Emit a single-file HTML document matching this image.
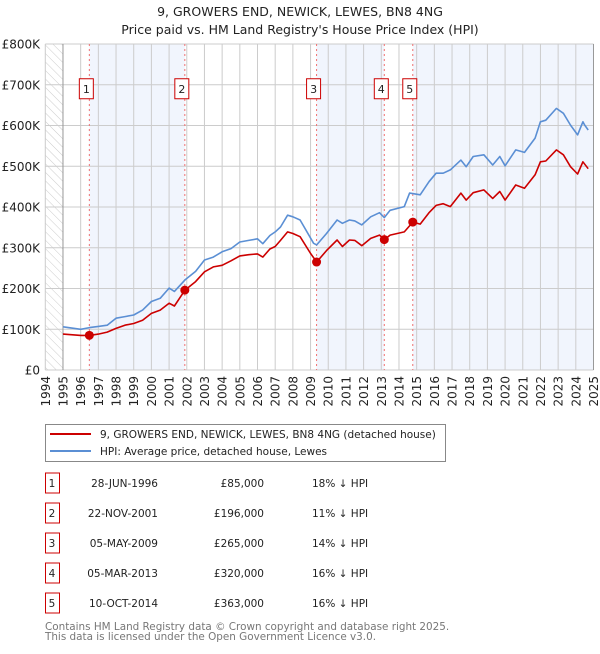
<!DOCTYPE html>
<html><head><meta charset="utf-8">
<style>
body{margin:0;background:#fff;font-family:"DejaVu Sans","Liberation Sans",sans-serif;}
svg text{font-family:"DejaVu Sans","Liberation Sans",sans-serif;}
</style></head>
<body>
<svg id="chart" width="600" height="650" xmlns="http://www.w3.org/2000/svg">
<defs>
<pattern id="hatch" width="6" height="6" patternUnits="userSpaceOnUse" patternTransform="rotate(-45)">
<line x1="0" y1="0" x2="0" y2="6" stroke="#ccc" stroke-width="1"/>
</pattern>
</defs>
<text x="300" y="16" text-anchor="middle" font-size="12.5" fill="#222">9, GROWERS END, NEWICK, LEWES, BN8 4NG</text>
<text x="300" y="34" text-anchor="middle" font-size="12.5" fill="#222">Price paid vs. HM Land Registry's House Price Index (HPI)</text>
<g id="plot"></g>
<rect x="45.5" y="424.5" width="400" height="37" fill="#fff" stroke="#888"/>
<line x1="50" y1="434" x2="91" y2="434" stroke="#cc0000" stroke-width="2"/>
<text x="100" y="438" font-size="10.5" fill="#222">9, GROWERS END, NEWICK, LEWES, BN8 4NG (detached house)</text>
<line x1="50" y1="451" x2="91" y2="451" stroke="#5b8fd4" stroke-width="2"/>
<text x="100" y="455" font-size="10.5" fill="#222">HPI: Average price, detached house, Lewes</text>
<g id="table"></g>
<text x="45" y="630" font-size="10.4" fill="#777">Contains HM Land Registry data © Crown copyright and database right 2025.</text>
<text x="45" y="640" font-size="10.4" fill="#777">This data is licensed under the Open Government Licence v3.0.</text>
</svg>
<script>
const yTicks=[0,100000,200000,300000,400000,500000,600000,700000,800000];
const yTickLabels=["£0","£100K","£200K","£300K","£400K","£500K","£600K","£700K","£800K"];
const years=[1994,1995,1996,1997,1998,1999,2000,2001,2002,2003,2004,2005,2006,2007,2008,2009,2010,2011,2012,2013,2014,2015,2016,2017,2018,2019,2020,2021,2022,2023,2024,2025];
const hpiT=[1995.0,1996.0,1996.5,1997.0,1997.5,1998.0,1998.5,1999.0,1999.5,2000.0,2000.5,2001.0,2001.3,2001.9,2002.5,2003.0,2003.5,2004.0,2004.5,2005.0,2005.5,2006.0,2006.3,2006.7,2007.0,2007.3,2007.7,2008.0,2008.41,2009.17,2009.35,2009.9,2010.5,2010.8,2011.2,2011.5,2011.9,2012.4,2012.9,2013.17,2013.5,2014.3,2014.6,2015.2,2015.7,2016.1,2016.5,2016.9,2017.5,2017.8,2018.2,2018.8,2019.3,2019.7,2020.0,2020.6,2021.1,2021.7,2022.0,2022.3,2022.9,2023.3,2023.7,2024.1,2024.4,2024.5,2024.7];
const hpiV=[106,100,104,107,110,127,131,135,147,168,176,201,193,221,242,270,277,290,298,314,318,322,310,330,339,351,380,376,368,311,307,335,368,360,368,366,356,376,386,374,392,401,434,430,462,483,483,491,515,499,524,528,503,524,501,540,534,569,609,613,642,630,601,577,609,601,589];
const redT=[1995.0,1996.0,1996.5,1997.0,1997.5,1998.0,1998.5,1999.0,1999.5,2000.0,2000.5,2001.0,2001.3,2001.9,2002.5,2003.0,2003.5,2004.0,2004.5,2005.0,2005.5,2006.0,2006.3,2006.7,2007.0,2007.3,2007.7,2008.0,2008.41,2009.0,2009.35,2009.9,2010.5,2010.8,2011.2,2011.5,2011.9,2012.4,2012.9,2013.17,2013.5,2014.3,2014.78,2015.2,2015.7,2016.1,2016.5,2016.9,2017.5,2017.8,2018.2,2018.8,2019.3,2019.7,2020.0,2020.6,2021.1,2021.7,2022.0,2022.3,2022.9,2023.3,2023.7,2024.1,2024.4,2024.7];
const redV=[88,85,85,88,93,102,110,114,122,139,147,164,157,196,217,241,253,257,268,280,283,285,277,297,303,318,339,335,327,286,265,293,319,303,319,318,305,323,331,320,331,339,363,358,386,404,408,401,434,417,435,442,421,438,417,454,446,479,511,513,540,528,499,481,511,494];
const saleIds=["1","2","3","4","5"];
const saleT=[1996.49,2001.89,2009.34,2013.17,2014.78];
const saleV=[85000,196000,265000,320000,363000];
const saleDates=["28-JUN-1996","22-NOV-2001","05-MAY-2009","05-MAR-2013","10-OCT-2014"];
const salePrices=["£85,000","£196,000","£265,000","£320,000","£363,000"];
const saleHpi=["18% ↓ HPI","11% ↓ HPI","14% ↓ HPI","16% ↓ HPI","16% ↓ HPI"];

const NS="http://www.w3.org/2000/svg";
const X0=45.3,X1=593.5,Y0=370,Y1=44;
const xs=t=>X0+(t-1994)*(X1-X0)/31;
const ys=v=>Y0-v*(Y0-Y1)/800000;
const plot=document.getElementById('plot');
function mk(tag,attrs,parent){const e=document.createElementNS(NS,tag);for(const k in attrs)e.setAttribute(k,attrs[k]);(parent||plot).appendChild(e);return e;}

let h=mk('rect',{x:X0,y:Y1,width:xs(1995)-X0,height:Y0-Y1,fill:'url(#hatch)'});


const shadeStarts=[0,2,4];const shadeEnds=[1,3,null];
for(let i=0;i<shadeStarts.length;i++){
  const a=xs(saleT[shadeStarts[i]]);const b=shadeEnds[i]===null?X1:xs(saleT[shadeEnds[i]]);
  const r=mk('rect',{x:a,y:Y1,width:b-a,height:Y0-Y1,fill:'#f1f5fd'});
  
  
}
yTicks.forEach((v,i)=>{
  const g=mk('line',{x1:X0,x2:X1,y1:ys(v),y2:ys(v),stroke:'#ccc','stroke-width':1});
  
  
  const t=mk('text',{x:40,y:ys(v)+4.5,'text-anchor':'end','font-size':12,fill:'#222'});
  t.textContent=yTickLabels[i];
  
  
});
years.forEach(yr=>{
  const g=mk('line',{x1:xs(yr),x2:xs(yr),y1:Y1,y2:Y0,stroke:'#ccc','stroke-width':1});
  
  
  const t=mk('text',{x:0,y:0,'text-anchor':'end','font-size':12,fill:'#222',transform:`translate(${xs(yr)+4.5},376) rotate(-90)`});
  t.textContent=yr;
  
  
});
mk('line',{x1:xs(1995),x2:xs(1995),y1:Y1,y2:Y0,stroke:'#999','stroke-width':1});
mk('line',{x1:X1,x2:X1,y1:Y1,y2:Y0,stroke:'#999','stroke-width':1});
saleT.forEach((t,i)=>{
  const l=mk('line',{x1:xs(t),x2:xs(t),y1:Y1,y2:Y0,stroke:'#f07070','stroke-width':1,'stroke-dasharray':'2,3'});
  
  
  const b=mk('rect',{x:xs(t)-10,y:ys(700000)-6,width:14,height:20,fill:'#fff',stroke:'#cc0000'});
  
  
  const tx=mk('text',{x:xs(t)-3,y:ys(700000)+8,'text-anchor':'middle','font-size':11,fill:'#222'});
  tx.textContent=saleIds[i];
  
  
});
function line(T,V,color,name){
  const d=T.map((t,i)=>(i?'L':'M')+xs(t).toFixed(1)+','+ys(V[i]*1000).toFixed(1)).join('');
  const p=mk('path',{d:d,fill:'none',stroke:color,'stroke-width':1.6,'stroke-linejoin':'round'});
  
  
}
line(hpiT,hpiV,'#5b8fd4','hpi-line');
line(redT,redV,'#cc0000','property-price-line');
saleT.forEach((t,i)=>{
  const c=mk('circle',{cx:xs(t),cy:ys(saleV[i]),r:4.5,fill:'#cc0000'});
  
  
});
const tb=document.getElementById('table');
saleIds.forEach((id,i)=>{
  const y=483+i*30;
  const b=mk('rect',{x:45.5,y:y-10,width:14,height:20,fill:'#fff',stroke:'#cc0000'},tb);
  
  
  const cols=[[52,'middle',id,'row-number'],[158,'end',saleDates[i],'row-date'],[264,'end',salePrices[i],'row-price'],[312,'start',saleHpi[i],'row-hpi-diff']];
  cols.forEach(c=>{
    const t=mk('text',{x:c[0],y:y+4,'text-anchor':c[1],'font-size':10.5,fill:'#222'},tb);
    t.textContent=c[2];
    
    
  });
});
</script>
</body></html>
